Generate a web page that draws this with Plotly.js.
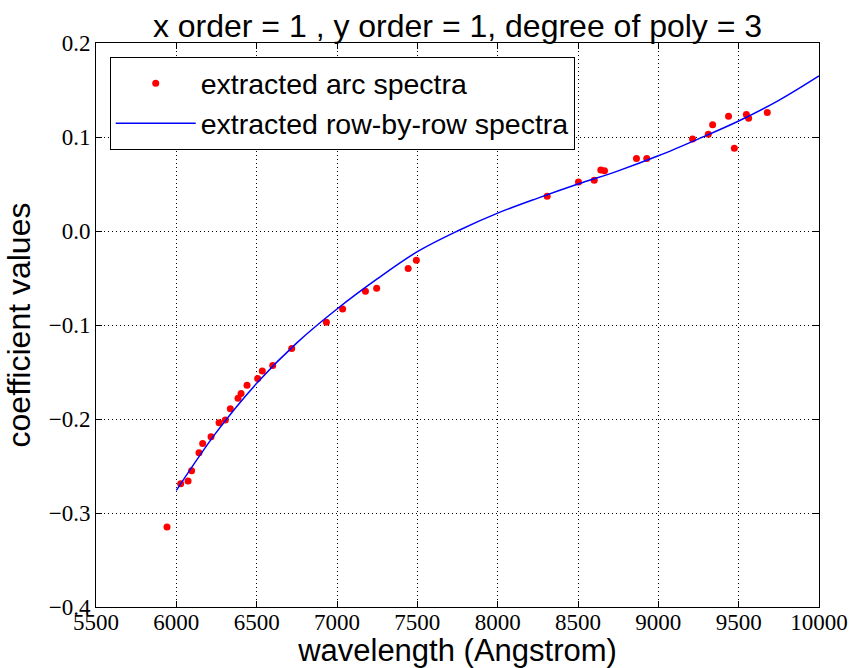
<!DOCTYPE html>
<html>
<head>
<meta charset="utf-8">
<script src="https://cdn.plot.ly/plotly-3.0.1.min.js"></script>
<style>html,body{margin:0;padding:0;background:#fff;}#chart{width:855px;height:668px;}</style>
</head>
<body>
<div id="chart"></div>
<script>
// extracted arc spectra (points)
var arcWavelength = [5942, 6027, 6073, 6095, 6141, 6164, 6216, 6266, 6305, 6336, 6384, 6403, 6440, 6506, 6535, 6600, 6718, 6934, 7035, 7177, 7247, 7443, 7494, 8308, 8503, 8601, 8642, 8665, 8864, 8928, 9213, 9311, 9338, 9437, 9473, 9548, 9562, 9678];
var arcCoeff = [-0.315, -0.269, -0.266, -0.255, -0.236, -0.226, -0.219, -0.204, -0.201, -0.189, -0.178, -0.173, -0.164, -0.157, -0.149, -0.143, -0.125, -0.097, -0.083, -0.064, -0.061, -0.040, -0.031, 0.037, 0.052, 0.054, 0.065, 0.064, 0.077, 0.077, 0.098, 0.103, 0.113, 0.122, 0.088, 0.124, 0.120, 0.126];

// extracted row-by-row spectra (curve)
var rowWavelength = [6000, 6250, 6500, 6750, 7000, 7250, 7500, 7750, 8000, 8250, 8500, 8750, 9000, 9250, 9500, 9750, 10000];
var rowCoeff = [-0.276, -0.214, -0.162, -0.119, -0.083, -0.051, -0.022, 0.000, 0.019, 0.035, 0.050, 0.064, 0.080, 0.098, 0.117, 0.139, 0.165];

var xTicks = [5500, 6000, 6500, 7000, 7500, 8000, 8500, 9000, 9500, 10000];
var yTicks = [-0.4, -0.3, -0.2, -0.1, 0.0, 0.1, 0.2];

var serif = "Liberation Serif";
var sans = "Liberation Sans";

var traces = [
  {
    x: arcWavelength, y: arcCoeff, mode: 'markers', type: 'scatter',
    name: 'extracted arc spectra',
    marker: {color: '#ff0000', size: 7, line: {width: 0}}
  },
  {
    x: rowWavelength, y: rowCoeff, mode: 'lines', type: 'scatter',
    name: 'extracted row-by-row spectra',
    line: {color: '#0000ff', width: 1.5, shape: 'spline'}
  }
];

function axisCommon() {
  return {
    showline: true, linecolor: '#000', linewidth: 1, mirror: 'ticks',
    ticks: 'inside', ticklen: 6, tickcolor: '#000', tickwidth: 1,
    showgrid: true, gridcolor: '#000', griddash: '1px,3px', gridwidth: 1,
    zeroline: false,
    tickfont: {family: serif, size: 23, color: '#000'}
  };
}

var layout = {
  width: 855, height: 668,
  margin: {l: 96, r: 36, t: 43, b: 61},
  paper_bgcolor: '#fff', plot_bgcolor: '#fff',
  showlegend: true,
  font: {family: serif, size: 23, color: '#000'},
  title: {
    text: 'x order = 1 , y order = 1, degree of poly = 3',
    font: {family: sans, size: 32, color: '#000'},
    x: 0.5, xref: 'paper', y: 0.962, yref: 'container', yanchor: 'middle'
  },
  xaxis: Object.assign(axisCommon(), {
    range: [5500, 10000], tickvals: xTicks, ticktext: xTicks.map(String),
    ticklabelstandoff: -6,
    title: {text: 'wavelength (Angstrom)', standoff: 2,
      font: {family: sans, size: 31, color: '#000'}}
  }),
  yaxis: Object.assign(axisCommon(), {
    range: [-0.4, 0.2], tickvals: yTicks, tickformat: '.1f',
    title: {text: 'coefficient values', standoff: 8,
      font: {family: sans, size: 32, color: '#000'}}
  }),
  legend: {
    x: 0.019, y: 0.975, xanchor: 'left', yanchor: 'top',
    bgcolor: '#fff', bordercolor: '#000', borderwidth: 1,
    font: {family: sans, size: 28.5, color: '#000'},
    itemwidth: 80
  }
};

Plotly.newPlot('chart', traces, layout, {displayModeBar: false, staticPlot: true});
</script>
</body>
</html>
